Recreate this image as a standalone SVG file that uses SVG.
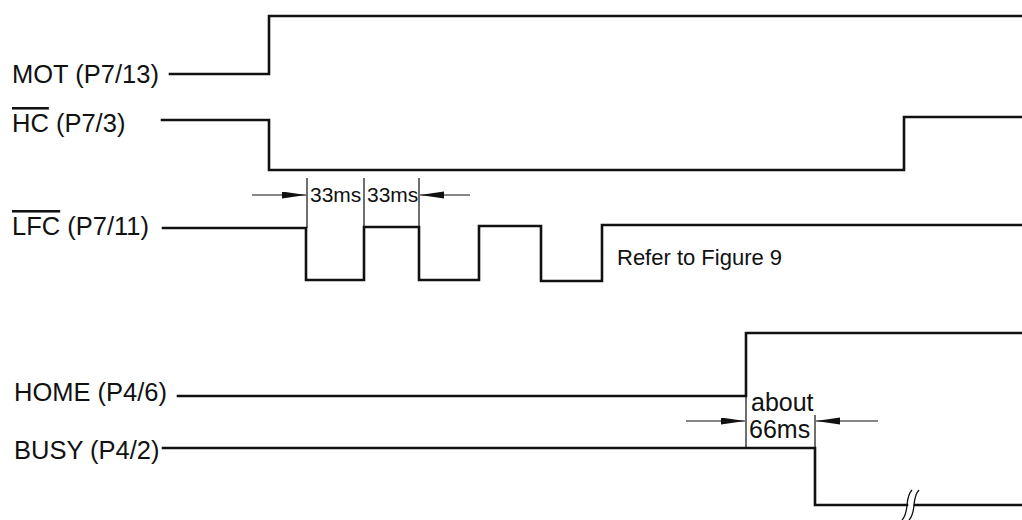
<svg xmlns="http://www.w3.org/2000/svg" width="1022" height="520" viewBox="0 0 1022 520">
<style>
.sig{fill:none;stroke:#111;stroke-width:2.6;stroke-linejoin:miter;stroke-linecap:square}
.ext{fill:none;stroke:#111;stroke-width:1.2}
.dim{fill:none;stroke:#111;stroke-width:1.2;marker-end:url(#arr)}
.lbl{font-family:"Liberation Sans",Arial,sans-serif;font-size:25.5px;fill:#111}
.small{font-family:"Liberation Sans",Arial,sans-serif;font-size:21px;fill:#111}
.mid{font-family:"Liberation Sans",Arial,sans-serif;font-size:25px;fill:#111}
.ov{text-decoration:overline}
</style>
<defs>
<marker id="arr" markerUnits="userSpaceOnUse" markerWidth="26" markerHeight="8" refX="24" refY="3.5" orient="auto">
<path d="M0,0 L24,3.5 L0,7 Z" fill="#111"/>
</marker>
</defs>
<rect width="1022" height="520" fill="#fff"/>
<g id="labels">
<text id="lbl-mot" class="lbl" x="12" y="83">MOT (P7/13)</text>
<text id="lbl-hc" class="lbl" x="12" y="132"><tspan class="ov">HC</tspan> (P7/3)</text>
<text id="lbl-lfc" class="lbl" x="12" y="235"><tspan class="ov">LFC</tspan> (P7/11)</text>
<text id="lbl-home" class="lbl" x="14" y="401">HOME (P4/6)</text>
<text id="lbl-busy" class="lbl" x="14" y="459">BUSY (P4/2)</text>
</g>
<g id="signals">
<path id="sig-mot" class="sig" d="M170,74 H269 V16 H1024"/>
<path id="sig-hc" class="sig" d="M162,120 H269 V170 H904 V117 H1024"/>
<path id="sig-lfc" class="sig" d="M163,228 H306 V280 H364 V227 H419 V280 H479 V226 H541 V281 H602 V225 H1024"/>
<path id="sig-home" class="sig" d="M178,396 H746 V333 H1024"/>
<path id="sig-busy" class="sig" d="M163,448 H815 V505 H907"/>
<path id="sig-busy2" class="sig" d="M915,505 H1024"/>
<path id="break" fill="none" stroke="#111" stroke-width="1.3" d="M902,520 C910,512 904,498 912,490 M909,520 C917,512 911,498 919,490"/>
</g>
<g id="connectors">
<path class="ext" d="M307,178 V228 M364,178 V227 M419,178 V227"/>
<path class="dim" d="M252,195 H306"/>
<path class="dim" d="M470,195 H420"/>
<path class="ext" d="M746,396 V448 M815,415 V448"/>
<path class="dim" d="M686,421 H745"/>
<path class="dim" d="M878,421 H816"/>
</g>
<g id="annotations">
<text class="small" x="310" y="202">33ms</text>
<text class="small" x="367" y="202">33ms</text>
<text class="mid" x="617" y="265" style="font-size:22px">Refer to Figure 9</text>
<text class="mid" x="751" y="411">about</text>
<text class="mid" x="749" y="438">66ms</text>
</g>
</svg>
